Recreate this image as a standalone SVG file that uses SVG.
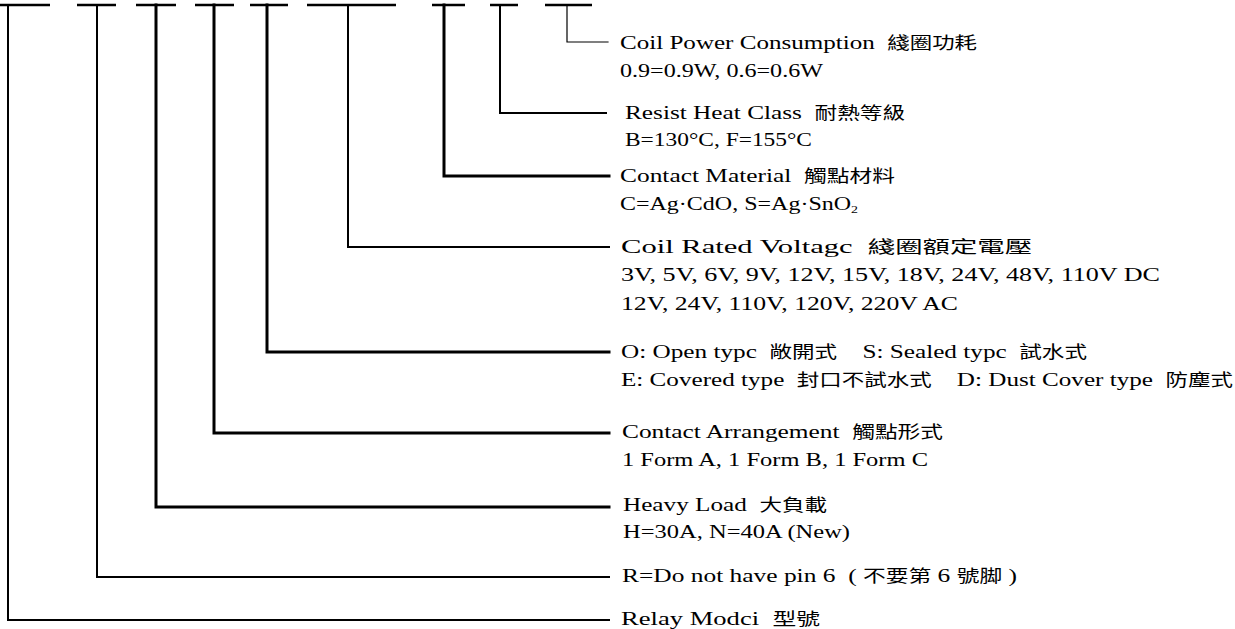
<svg xmlns="http://www.w3.org/2000/svg" width="1235" height="629" viewBox="0 0 1235 629">
<style>
text{font-family:"Liberation Serif","Noto Sans CJK TC",serif;font-size:19px;fill:#000}
.cjk{font-family:"Noto Sans CJK TC",sans-serif;font-size:17px}
.c{fill:none;stroke:#000;stroke-linecap:square}
.t1{stroke-width:1.2}
.t2{stroke-width:2}
.t3{stroke-width:3}
.slot{stroke:#000;stroke-width:2.5}
</style>
<rect width="1235" height="629" fill="#fff"/>
<g id="slots">
<line class="slot" x1="0" y1="5" x2="50" y2="5"/>
<line class="slot" x1="77" y1="5" x2="116" y2="5"/>
<line class="slot" x1="136" y1="5" x2="176" y2="5"/>
<line class="slot" x1="195" y1="5" x2="234" y2="5"/>
<line class="slot" x1="250" y1="5" x2="288" y2="5"/>
<line class="slot" x1="307" y1="5" x2="396" y2="5"/>
<line class="slot" x1="432" y1="5" x2="465" y2="5"/>
<line class="slot" x1="490" y1="5" x2="518" y2="5"/>
<line class="slot" x1="545" y1="5" x2="592" y2="5"/>
</g>
<g id="connectors">
<polyline class="c t2" points="8,5 8,620 609,620"/>
<polyline class="c t2" points="97,5 97,577 609,577"/>
<polyline class="c t3" points="156,5 156,507 609,507"/>
<polyline class="c t3" points="214,5 214,433 609,433"/>
<polyline class="c t3" points="267,5 267,352 609,352"/>
<polyline class="c t2" points="348,5 348,247 609,247"/>
<polyline class="c t3" points="444,5 444,176 609,176"/>
<polyline class="c t2" points="500,5 500,113 606,113"/>
<polyline class="c t1" points="567,5 567,42 608,42"/>
</g>
<g id="coil-power">
<text x="620" y="49" textLength="357" lengthAdjust="spacingAndGlyphs">Coil Power Consumption&#160;&#160;<tspan class="cjk">綫圈功耗</tspan></text>
<text x="620" y="77" textLength="203" lengthAdjust="spacingAndGlyphs">0.9=0.9W, 0.6=0.6W</text>
</g>
<g id="resist-heat">
<text x="625" y="119" textLength="280" lengthAdjust="spacingAndGlyphs">Resist Heat Class&#160;&#160;<tspan class="cjk">耐熱等級</tspan></text>
<text x="625" y="146" textLength="187" lengthAdjust="spacingAndGlyphs">B=130°C, F=155°C</text>
</g>
<g id="contact-material">
<text x="620" y="182" textLength="275" lengthAdjust="spacingAndGlyphs">Contact Material&#160;&#160;<tspan class="cjk">觸點材料</tspan></text>
<text x="620" y="210" textLength="238" lengthAdjust="spacingAndGlyphs">C=Ag·CdO, S=Ag·SnO<tspan font-size="11" dy="3">2</tspan></text>
</g>
<g id="coil-voltage">
<text x="621" y="253" textLength="411" lengthAdjust="spacingAndGlyphs">Coil Rated Voltagc&#160;&#160;<tspan class="cjk">綫圈額定電壓</tspan></text>
<text x="621" y="281" textLength="539" lengthAdjust="spacingAndGlyphs">3V, 5V, 6V, 9V, 12V, 15V, 18V, 24V, 48V, 110V DC</text>
<text x="621" y="310" textLength="337" lengthAdjust="spacingAndGlyphs">12V, 24V, 110V, 120V, 220V AC</text>
</g>
<g id="enclosure">
<text x="621" y="358" textLength="466" lengthAdjust="spacingAndGlyphs">O: Open typc&#160;&#160;<tspan class="cjk">敞開式</tspan>&#160;&#160;&#160;&#160;S: Sealed typc&#160;&#160;<tspan class="cjk">試水式</tspan></text>
<text x="621" y="386" textLength="612" lengthAdjust="spacingAndGlyphs">E: Covered type&#160;&#160;<tspan class="cjk">封口不試水式</tspan>&#160;&#160;&#160;&#160;D: Dust Cover type&#160;&#160;<tspan class="cjk">防塵式</tspan></text>
</g>
<g id="contact-arrangement">
<text x="622" y="438" textLength="321" lengthAdjust="spacingAndGlyphs">Contact Arrangement&#160;&#160;<tspan class="cjk">觸點形式</tspan></text>
<text x="622" y="466" textLength="306" lengthAdjust="spacingAndGlyphs">1 Form A, 1 Form B, 1 Form C</text>
</g>
<g id="heavy-load">
<text x="623" y="511" textLength="204" lengthAdjust="spacingAndGlyphs">Heavy Load&#160;&#160;<tspan class="cjk">大負載</tspan></text>
<text x="623" y="538" textLength="227" lengthAdjust="spacingAndGlyphs">H=30A, N=40A (New)</text>
</g>
<g id="pin6">
<text x="622" y="582" textLength="395" lengthAdjust="spacingAndGlyphs">R=Do not have pin 6&#160;&#160;(&#160;<tspan class="cjk">不要第</tspan>&#160;6&#160;<tspan class="cjk">號脚</tspan>&#160;)</text>
</g>
<g id="relay-model">
<text x="621" y="625" textLength="199" lengthAdjust="spacingAndGlyphs">Relay Modci&#160;&#160;<tspan class="cjk">型號</tspan></text>
</g>
</svg>
